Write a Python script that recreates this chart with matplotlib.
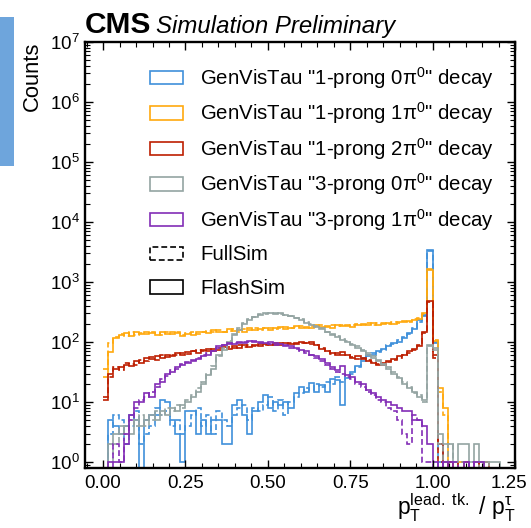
import numpy as np
import matplotlib
matplotlib.use("Agg")
import matplotlib.pyplot as plt
import matplotlib.transforms as mtransforms
from matplotlib.patches import Patch, Rectangle

plt.rcParams["font.family"] = ["Liberation Sans", "DejaVu Sans"]
plt.rcParams["mathtext.fontset"] = "custom"
plt.rcParams["mathtext.rm"] = "Liberation Sans"
plt.rcParams["mathtext.it"] = "Liberation Sans:italic"
plt.rcParams["mathtext.bf"] = "Liberation Sans:bold"

# binning of p_T(leading track) / p_T(tau)
bin_lo, bin_hi, n_bins = 0.0, 1.25, 80

labels = [
    'GenVisTau "1-prong 0π$^{0}$" decay',
    'GenVisTau "1-prong 1π$^{0}$" decay',
    'GenVisTau "1-prong 2π$^{0}$" decay',
    'GenVisTau "3-prong 0π$^{0}$" decay',
    'GenVisTau "3-prong 1π$^{0}$" decay',
]
style_labels = ["FullSim", "FlashSim"]
colors = ["#3f90da", "#ffa90e", "#bd1f01", "#94a4a2", "#832db6"]

# FlashSim (solid) and FullSim (dashed) bin contents, one entry per bin
flash_1p0 = [0, 5, 4, 3, 4, 6, 5, 0, 5, 6, 6, 11, 10, 5, 3, 1, 7, 7, 3, 5,
             3, 5, 5, 2, 2, 9, 11, 6, 3, 7, 10, 13, 8, 10, 9, 10, 8, 14, 18, 15,
             21, 15, 19, 15, 24, 23, 9, 25, 32, 40, 55, 62, 60, 70, 78, 85, 95, 100, 115, 140,
             165, 230, 270, 3400, 100, 2, 0, 0, 0, 0, 0, 0, 0, 0, 0, 0, 0, 0, 0, 0]
full_1p0 = [0, 3, 6, 5, 2, 4, 7, 2, 3, 4, 8, 6, 7, 4, 5, 3, 4, 6, 8, 4,
            6, 3, 7, 5, 4, 6, 8, 9, 5, 8, 7, 9, 12, 7, 11, 6, 10, 12, 14, 17,
            16, 20, 18, 22, 20, 26, 22, 28, 30, 38, 48, 58, 65, 68, 75, 90, 92, 110, 120, 135,
            170, 215, 280, 3300, 95, 1, 0, 0, 0, 0, 0, 0, 0, 0, 0, 0, 0, 0, 0, 0]

flash_1p1 = [26, 68, 115, 130, 140, 125, 145, 135, 150, 140, 130, 145, 135, 150, 140, 125, 135, 130, 145, 150,
             140, 160, 150, 145, 165, 155, 160, 150, 170, 160, 165, 175, 160, 170, 180, 165, 175, 185, 170, 180,
             175, 190, 180, 185, 175, 190, 185, 195, 180, 190, 200, 190, 205, 195, 200, 210, 200, 215, 220, 225,
             230, 245, 310, 1600, 105, 17, 8, 0, 0, 1, 0, 0, 1, 1, 0, 0, 0, 0, 0, 0]
full_1p1 = [36, 95, 120, 135, 125, 145, 130, 140, 135, 150, 140, 130, 145, 135, 145, 130, 140, 150, 135, 145,
            155, 145, 160, 150, 155, 165, 150, 165, 160, 170, 160, 170, 175, 165, 175, 180, 170, 180, 185, 175,
            185, 180, 190, 180, 190, 185, 195, 185, 195, 200, 190, 205, 195, 205, 210, 200, 215, 210, 225, 220,
            240, 255, 290, 1650, 110, 15, 6, 1, 0, 0, 0, 0, 0, 0, 1, 0, 0, 0, 0, 0]

flash_1p2 = [11, 30, 35, 38, 42, 40, 48, 45, 55, 52, 58, 55, 62, 58, 65, 62, 68, 72, 66, 75,
             70, 78, 74, 82, 78, 85, 80, 88, 84, 90, 86, 92, 88, 95, 90, 96, 92, 98, 100, 95,
             102, 90, 78, 70, 66, 62, 68, 60, 55, 58, 52, 48, 45, 42, 45, 48, 52, 58, 62, 70,
             78, 85, 145, 490, 60, 2, 0, 1, 0, 0, 1, 0, 0, 1, 1, 0, 0, 0, 0, 0]
full_1p2 = [12, 26, 38, 34, 45, 44, 42, 50, 48, 56, 50, 60, 57, 60, 62, 66, 64, 70, 74, 70,
            76, 72, 80, 76, 84, 80, 88, 82, 90, 86, 92, 88, 94, 90, 96, 92, 98, 94, 96, 98,
            94, 88, 80, 72, 64, 66, 60, 62, 56, 52, 55, 50, 46, 44, 42, 46, 50, 55, 60, 66,
            74, 90, 140, 470, 55, 1, 1, 0, 0, 1, 0, 0, 1, 0, 0, 0, 0, 0, 0, 0]

flash_3p0 = [0, 2, 3, 3, 4, 3, 5, 4, 5, 6, 5, 7, 6, 8, 7, 9, 10, 12, 15, 20,
             28, 36, 62, 75, 100, 130, 160, 200, 230, 260, 280, 300, 310, 290, 300, 285, 270, 250, 235, 210,
             195, 180, 165, 145, 130, 120, 110, 100, 90, 80, 70, 62, 55, 48, 42, 35, 30, 25, 20, 17,
             15, 12, 11, 90, 80, 3, 2, 2, 1, 2, 2, 1, 2, 1, 1, 1, 1, 0, 0, 0]
full_3p0 = [0, 1, 2, 4, 3, 5, 4, 6, 4, 5, 7, 6, 8, 7, 9, 8, 11, 13, 17, 22,
            30, 40, 58, 80, 105, 135, 170, 205, 240, 265, 290, 295, 300, 305, 290, 280, 275, 255, 240, 220,
            200, 185, 170, 150, 135, 125, 112, 105, 92, 85, 74, 65, 58, 50, 44, 38, 32, 26, 22, 18,
            14, 13, 10, 85, 75, 2, 1, 2, 1, 1, 0, 1, 1, 0, 1, 0, 0, 0, 0, 0]

flash_3p1 = [0, 1, 1, 1, 2, 6, 10, 10, 14, 12, 20, 22, 30, 32, 38, 42, 45, 50, 52, 58,
             62, 70, 85, 90, 95, 92, 100, 98, 105, 100, 102, 98, 100, 95, 92, 88, 85, 80, 75, 70,
             62, 58, 52, 45, 38, 34, 40, 28, 26, 22, 20, 16, 14, 12, 11, 10, 9, 8, 7, 7,
             5, 5, 4, 2, 1, 0, 1, 1, 0, 0, 1, 0, 1, 1, 0, 0, 0, 0, 0, 0]
full_3p1 = [0, 0, 2, 1, 3, 5, 8, 11, 12, 15, 18, 24, 27, 34, 36, 44, 46, 48, 55, 60,
            66, 72, 80, 88, 92, 96, 98, 102, 100, 104, 98, 96, 94, 90, 88, 86, 80, 76, 72, 66,
            60, 55, 48, 42, 36, 32, 30, 26, 24, 20, 18, 15, 13, 11, 10, 8, 7, 5, 3, 2,
            6, 5, 1, 1, 0, 1, 0, 1, 1, 0, 0, 1, 0, 0, 0, 0, 0, 0, 0, 0]

flash = [flash_1p0, flash_1p1, flash_1p2, flash_3p0, flash_3p1]
full = [full_1p0, full_1p1, full_1p2, full_3p0, full_3p1]

edges = np.linspace(bin_lo, bin_hi, n_bins + 1)
dash = (0, (3.5, 1.8))

fig = plt.figure(figsize=(5.31, 5.28), dpi=100)
ax = fig.add_axes([85 / 531, 60 / 528, 430 / 531, 426 / 528])

for vals_full, vals_flash, c in zip(full, flash, colors):
    ax.stairs(np.asarray(vals_full, float), edges, color=c, lw=1.2, ls=dash, baseline=None)
    ax.stairs(np.asarray(vals_flash, float), edges, color=c, lw=1.2, baseline=None)

ax.set_yscale("log")
ax.set_xlim(-0.055, 1.25)
ax.set_ylim(0.8, 1e7)

ax.set_xticks([0.0, 0.25, 0.5, 0.75, 1.0, 1.25])
ax.set_xticklabels(["0.00", "0.25", "0.50", "0.75", "1.00", "1.25"])
ax.xaxis.set_minor_locator(matplotlib.ticker.MultipleLocator(0.05))
ax.yaxis.set_major_locator(matplotlib.ticker.LogLocator(base=10, numticks=20))
ax.yaxis.set_minor_locator(matplotlib.ticker.LogLocator(base=10, subs=np.arange(2, 10), numticks=20))
ax.yaxis.set_minor_formatter(matplotlib.ticker.NullFormatter())

ax.tick_params(which="both", direction="in", top=True, right=True, labelsize=13.5, pad=5)
ax.tick_params(axis="y", pad=4)
ax.tick_params(which="major", length=6, width=1.0)
ax.tick_params(which="minor", length=3.5, width=0.8)
for s in ax.spines.values():
    s.set_linewidth(1.7)

# keep the last x tick label inside the canvas
last = ax.xaxis.get_major_ticks()[-1].label1
last.set_transform(last.get_transform() +
                   mtransforms.ScaledTranslation(-6 / 100, 0, fig.dpi_scale_trans))

ax.set_ylabel("Counts", loc="top", fontsize=15.8, labelpad=5)
ax.set_xlabel(r"$\mathrm{p_{T}^{lead.\ tk.}}$ / $\mathrm{p_{T}^{\tau}}$", loc="right",
              fontsize=16.5, labelpad=0)

leg_kw = dict(frameon=False, fontsize=14.7, handlelength=1.62, handleheight=0.64,
              handletextpad=0.85)
proc_handles = [Patch(facecolor="none", edgecolor=c, lw=1.2) for c in colors]
leg1 = ax.legend(proc_handles, labels, loc="upper right", bbox_to_anchor=(0.985, 0.98),
                 labelspacing=0.47, borderaxespad=0.3, **leg_kw)
ax.add_artist(leg1)

fig.canvas.draw()
renderer = fig.canvas.get_renderer()
hb = leg1.legend_handles[0].get_window_extent(renderer)
x_left = ax.transAxes.inverted().transform((hb.x0, 0))[0]

style_handles = [Patch(facecolor="none", edgecolor="black", lw=1.2, ls=dash),
                 Patch(facecolor="none", edgecolor="black", lw=1.2)]
y_top = (528 - 245.5 - 60) / 426
ax.legend(style_handles, style_labels, loc="upper left", bbox_to_anchor=(x_left, y_top),
          labelspacing=0.72, borderaxespad=0.0, borderpad=0.0, **leg_kw)

cms = ax.text(0.0, 1.007, "CMS", transform=ax.transAxes, fontsize=21.5,
              fontweight="bold", va="bottom", ha="left")
ax.annotate("Simulation Preliminary", xy=(1, 0), xycoords=cms, xytext=(3, 0.4),
            textcoords="offset points", fontsize=17.3, style="italic",
            va="bottom", ha="left")

fig.patches.append(Rectangle((0, 1 - 166 / 528), 14 / 531, 149 / 528,
                             transform=fig.transFigure, facecolor="#6ea5dc",
                             edgecolor="none"))

fig.savefig("out.png", dpi=100)
